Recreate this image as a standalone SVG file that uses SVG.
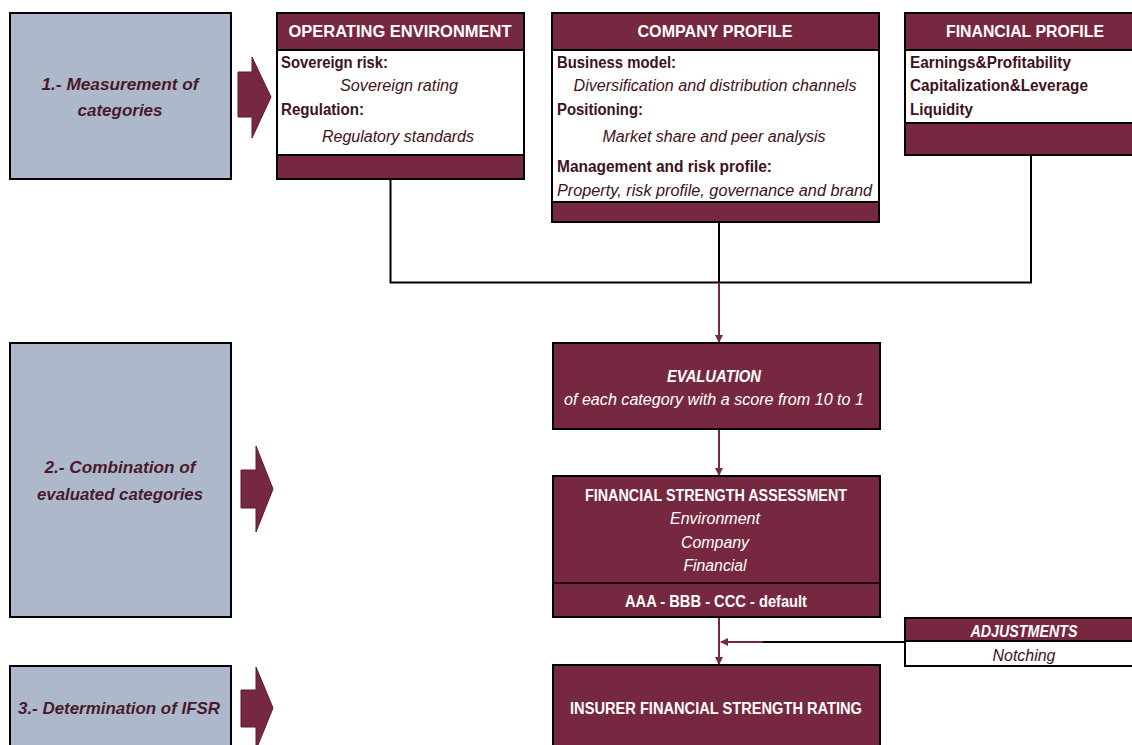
<svg xmlns="http://www.w3.org/2000/svg" width="1132" height="745" viewBox="0 0 1132 745">
<style>
.step{fill:#ADB9CA;stroke:#000;stroke-width:2}
.hdr{fill:#772841;stroke:#000;stroke-width:2}
.body{fill:#fff;stroke:#000;stroke-width:2}
.bar{fill:#772841;stroke:#000;stroke-width:2}
.big{fill:#772841;stroke:#000;stroke-width:2}
.t{font-family:"Liberation Sans",Arial,sans-serif;font-size:16px}
.b{font-weight:bold}
.i{font-style:italic}
.w{fill:#fff}
.d{fill:#3d1222}
.s{fill:#4a1a2c;font-size:17px;font-weight:bold;font-style:italic}
.c{text-anchor:middle}
.arr{fill:#772841;stroke:#5a1d31;stroke-width:1}
.conn{fill:none;stroke:#000;stroke-width:2}
.mconn{fill:none;stroke:#772841;stroke-width:2}
</style>
<defs>
<marker id="ah" markerWidth="8" markerHeight="8" refX="7" refY="4" orient="auto" markerUnits="userSpaceOnUse">
<path d="M0,0 L8,4 L0,8 Z" fill="#772841"/>
</marker>
</defs>
<rect width="1132" height="745" fill="#fff"/>

<g id="connectors">
<path class="conn" d="M390.5,179 V282.5 H1031 V155"/>
<path class="conn" d="M719,222 V282.5"/>
<path class="mconn" d="M719,282.5 V342" marker-end="url(#ah)"/>
<path class="mconn" d="M719,429 V475" marker-end="url(#ah)"/>
<path class="mconn" d="M719,617 V664" marker-end="url(#ah)"/>
<path class="conn" d="M905,642 H762"/>
<path class="mconn" d="M763,642 H721" marker-end="url(#ah)"/>
</g>

<g id="step1">
<rect class="step" x="10" y="13" width="221" height="166"/>
<text class="t s c" x="120" y="90" textLength="157" lengthAdjust="spacingAndGlyphs">1.- Measurement of</text>
<text class="t s c" x="120" y="116">categories</text>
<path class="arr" d="M238,72 H252 V57 L271,97 L252,138 V117 H238 Z"/>
</g>

<g id="step2">
<rect class="step" x="10" y="343" width="221" height="274"/>
<text class="t s c" x="120" y="473" textLength="151" lengthAdjust="spacingAndGlyphs">2.- Combination of</text>
<text class="t s c" x="120" y="500" textLength="166" lengthAdjust="spacingAndGlyphs">evaluated categories</text>
<path class="arr" d="M241,470 H256 V446 L273,489 L256,532 V508 H241 Z"/>
</g>

<g id="step3">
<rect class="step" x="10" y="666" width="221" height="90"/>
<text class="t s c" x="119" y="714" textLength="202" lengthAdjust="spacingAndGlyphs">3.- Determination of IFSR</text>
<path class="arr" d="M241,690 H256 V667 L273,708 L256,750 V727 H241 Z"/>
</g>

<g id="operating-environment">
<rect class="hdr" x="277" y="13" width="247" height="37"/>
<rect class="body" x="277" y="50" width="247" height="105"/>
<rect class="bar" x="277" y="155" width="247" height="24"/>
<text class="t b w c" x="400" y="37" font-size="17" textLength="223" lengthAdjust="spacingAndGlyphs">OPERATING ENVIRONMENT</text>
<text class="t b d" x="281" y="68" textLength="107" lengthAdjust="spacingAndGlyphs">Sovereign risk:</text>
<text class="t i d c" x="399" y="91" textLength="118" lengthAdjust="spacingAndGlyphs">Sovereign rating</text>
<text class="t b d" x="281" y="115" textLength="83" lengthAdjust="spacingAndGlyphs">Regulation:</text>
<text class="t i d c" x="398" y="142" textLength="152" lengthAdjust="spacingAndGlyphs">Regulatory standards</text>
</g>

<g id="company-profile">
<rect class="hdr" x="552" y="13" width="327" height="37"/>
<rect class="body" x="552" y="50" width="327" height="152"/>
<rect class="bar" x="552" y="202" width="327" height="20"/>
<text class="t b w c" x="715" y="37" font-size="17" textLength="155" lengthAdjust="spacingAndGlyphs">COMPANY PROFILE</text>
<text class="t b d" x="557" y="68" textLength="119" lengthAdjust="spacingAndGlyphs">Business model:</text>
<text class="t i d c" x="715" y="91" textLength="283" lengthAdjust="spacingAndGlyphs">Diversification and distribution channels</text>
<text class="t b d" x="557" y="115" textLength="86" lengthAdjust="spacingAndGlyphs">Positioning:</text>
<text class="t i d c" x="714" y="142" textLength="223" lengthAdjust="spacingAndGlyphs">Market share and peer analysis</text>
<text class="t b d" x="557" y="172" textLength="215" lengthAdjust="spacingAndGlyphs">Management and risk profile:</text>
<text class="t i d" x="557" y="196" textLength="315" lengthAdjust="spacingAndGlyphs">Property, risk profile, governance and brand</text>
</g>

<g id="financial-profile">
<rect class="hdr" x="905" y="13" width="240" height="37"/>
<rect class="body" x="905" y="50" width="240" height="73"/>
<rect class="bar" x="905" y="123" width="240" height="32"/>
<text class="t b w c" x="1025" y="37" font-size="17" textLength="158" lengthAdjust="spacingAndGlyphs">FINANCIAL PROFILE</text>
<text class="t b d" x="910" y="68" textLength="161" lengthAdjust="spacingAndGlyphs">Earnings&amp;Profitability</text>
<text class="t b d" x="910" y="91" textLength="178" lengthAdjust="spacingAndGlyphs">Capitalization&amp;Leverage</text>
<text class="t b d" x="910" y="115" textLength="63" lengthAdjust="spacingAndGlyphs">Liquidity</text>
</g>

<g id="evaluation">
<rect class="big" x="553" y="343" width="327" height="86"/>
<text class="t b i w c" x="714" y="382" textLength="94" lengthAdjust="spacingAndGlyphs">EVALUATION</text>
<text class="t i w c" x="714" y="405" textLength="300" lengthAdjust="spacingAndGlyphs">of each category with a score from 10 to 1</text>
</g>

<g id="financial-strength-assessment">
<rect class="big" x="553" y="476" width="327" height="141"/>
<line x1="553" y1="583" x2="880" y2="583" stroke="#000" stroke-width="1.5"/>
<text class="t b w c" x="716" y="501" textLength="262" lengthAdjust="spacingAndGlyphs">FINANCIAL STRENGTH ASSESSMENT</text>
<text class="t i w c" x="715" y="524" textLength="90" lengthAdjust="spacingAndGlyphs">Environment</text>
<text class="t i w c" x="715" y="548" textLength="68" lengthAdjust="spacingAndGlyphs">Company</text>
<text class="t i w c" x="715" y="571" textLength="63" lengthAdjust="spacingAndGlyphs">Financial</text>
<text class="t b w c" x="716" y="607" textLength="182" lengthAdjust="spacingAndGlyphs">AAA - BBB - CCC - default</text>
</g>

<g id="adjustments">
<rect class="hdr" x="905" y="618" width="240" height="23"/>
<rect class="body" x="905" y="641" width="240" height="25"/>
<text class="t b i w c" x="1024" y="637" textLength="107" lengthAdjust="spacingAndGlyphs">ADJUSTMENTS</text>
<text class="t i d c" x="1024" y="661" textLength="63" lengthAdjust="spacingAndGlyphs">Notching</text>
</g>

<g id="ifsr">
<rect class="big" x="553" y="665" width="327" height="95"/>
<text class="t b w c" x="716" y="714" textLength="292" lengthAdjust="spacingAndGlyphs">INSURER FINANCIAL STRENGTH RATING</text>
</g>
</svg>
